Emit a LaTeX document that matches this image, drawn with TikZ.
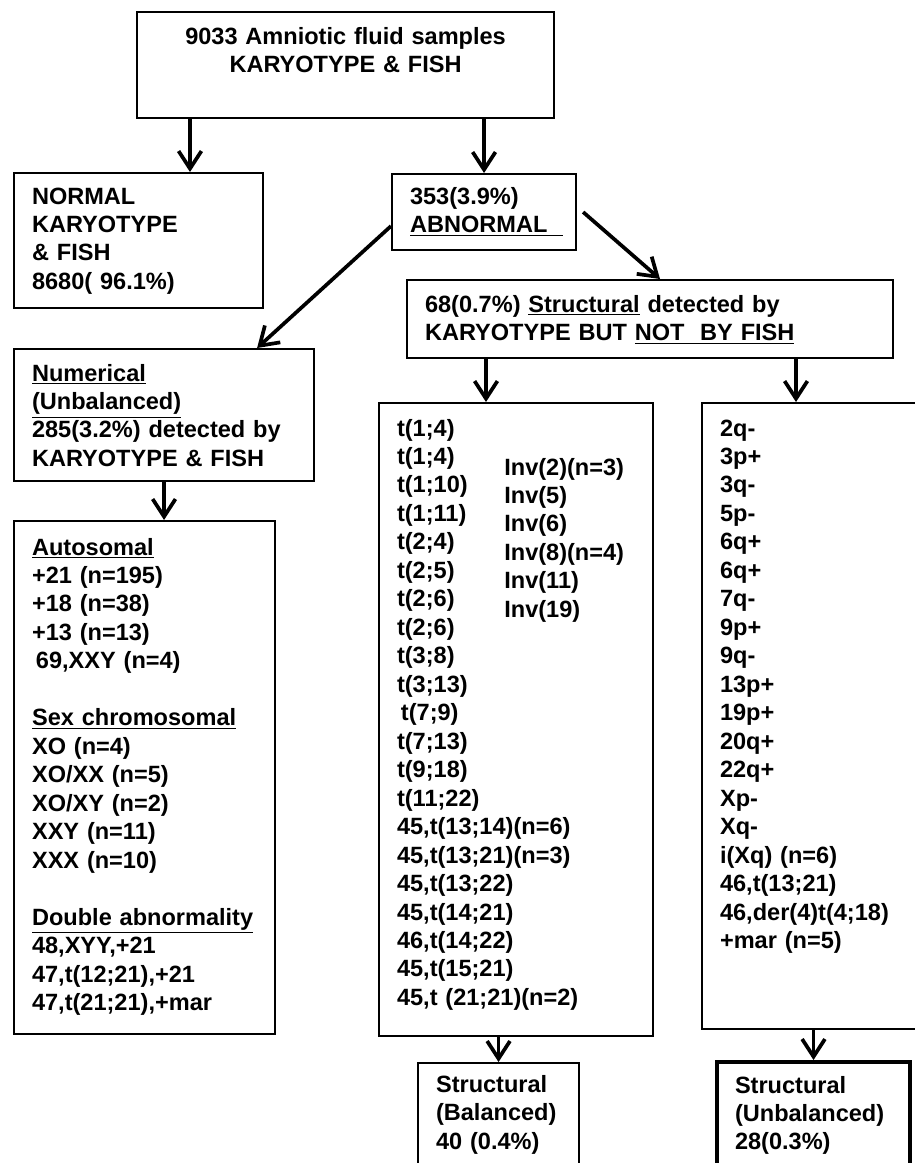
\documentclass[tikz,border=0pt]{standalone}
\usepackage{fontspec}
\setmainfont{Liberation Sans}
\usetikzlibrary{arrows.meta}

\begin{document}
\begin{tikzpicture}[font=\fontsize{13.4}{16.2}\selectfont\bfseries, >={Straight Barb[length=10pt,width=13pt]},
 box/.style={draw, line width=1.2pt, anchor=north west, align=left, inner xsep=.36cm, inner ysep=0pt},
 edge/.style={->,line width=2.1pt}]
\useasboundingbox[fill=white] (0,0) rectangle (18.3,-23.26);
\node[box, align=center, text width=7.62cm, text height=.64cm, text depth=1.48cm] (samples) at (2.72,-.22) {9033 Amniotic fluid samples\\KARYOTYPE \& FISH};
\node[box, text width=4.26cm, text height=.62cm, text depth=2.08cm] (normal) at (.26,-3.44) {NORMAL\\KARYOTYPE\\\& FISH\\8680( 96.1\%)};
\node[box, text width=2.96cm, text height=.6cm, text depth=.92cm] (abnormal) at (7.82,-3.46) {353(3.9\%)\\\underline{ABNORMAL\ \ }};
\node[box, text width=9cm, text height=.64cm, text depth=.92cm] (struct) at (8.12,-5.58) {68(0.7\%) \underline{Structural} detected by\\KARYOTYPE BUT \underline{NOT \ BY FISH}};
\node[box, text width=5.28cm, text height=.64cm, text depth=2cm] (numerical) at (.26,-6.96) {\underline{Numerical}\\\underline{(Unbalanced)}\\285(3.2\%) detected by\\KARYOTYPE \& FISH};
\node[box, text width=4.5cm, text height=.68cm, text depth=9.58cm] (autos) at (.26,-10.4) {\underline{Autosomal}\\+21 (n=195)\\+18 (n=38)\\+13 (n=13)\\\,69,XXY (n=4)\\[\baselineskip]
 \underline{Sex chromosomal}\\XO (n=4)\\XO/XX (n=5)\\XO/XY (n=2)\\XXY (n=11)\\XXX (n=10)\\[\baselineskip]
 \underline{Double abnormality}\\48,XYY,+21\\47,t(12;21),+21\\47,t(21;21),+mar};
\node[box, text width=4.76cm, text height=.66cm, text depth=12cm] (balist) at (7.56,-8.04) {t(1;4)\\t(1;4)\\t(1;10)\\t(1;11)\\t(2;4)\\t(2;5)\\t(2;6)\\t(2;6)\\t(3;8)\\t(3;13)\\\,t(7;9)\\t(7;13)\\t(9;18)\\t(11;22)\\
 45,t(13;14)(n=6)\\45,t(13;21)(n=3)\\45,t(13;22)\\45,t(14;21)\\46,t(14;22)\\45,t(15;21)\\45,t (21;21)(n=2)};
\node[anchor=base west, align=left, text width=3cm, inner sep=0pt] (inv) at (10.08,-9.5) {Inv(2)(n=3)\\Inv(5)\\Inv(6)\\Inv(8)(n=4)\\Inv(11)\\Inv(19)};
\node[box, text width=4.08cm, text height=.66cm, text depth=11.86cm] (unlist) at (14.02,-8.04) {2q-\\3p+\\3q-\\5p-\\6q+\\6q+\\7q-\\9p+\\9q-\\13p+\\19p+\\20q+\\22q+\\Xp-\\Xq-\\i(Xq) (n=6)\\46,t(13;21)\\46,der(4)t(4;18)\\+mar (n=5)};
\node[box, text width=2.5cm, text height=.58cm, text depth=1.78cm] (balanced) at (8.34,-21.24) {Structural\\(Balanced)\\40 (0.4\%)};
\node[box, line width=2.3pt, text width=3.14cm, text height=.62cm, text depth=1.8cm] (unbalanced) at (14.3,-21.2) {Structural\\(Unbalanced)\\28(0.3\%)};
\coordinate (n1) at ([xshift=1.08cm]samples.south west);
\coordinate (s1) at ([xshift=1.6cm]struct.south west);
\coordinate (s2) at ([xshift=7.8cm]struct.south west);
\draw[edge] (n1) -- (n1 |- normal.north);
\draw[edge] (samples.south -| abnormal.north) -- (abnormal.north);
\draw[edge] ([yshift=-.28cm]abnormal.west) -- ([xshift=-1.16cm]numerical.north east);
\draw[edge] ([xshift=.12cm]abnormal.east) -- ([xshift=5.08cm]struct.north west);
\draw[edge] (numerical.south) -- (numerical.south |- autos.north);
\draw[edge] (s1) -- (s1 |- balist.north);
\draw[edge] (s2) -- (s2 |- unlist.north);
\draw[edge] (balist.south -| balanced.north) -- (balanced.north);
\draw[edge] (unlist.south -| unbalanced.north) -- (unbalanced.north);
\end{tikzpicture}
\end{document}
